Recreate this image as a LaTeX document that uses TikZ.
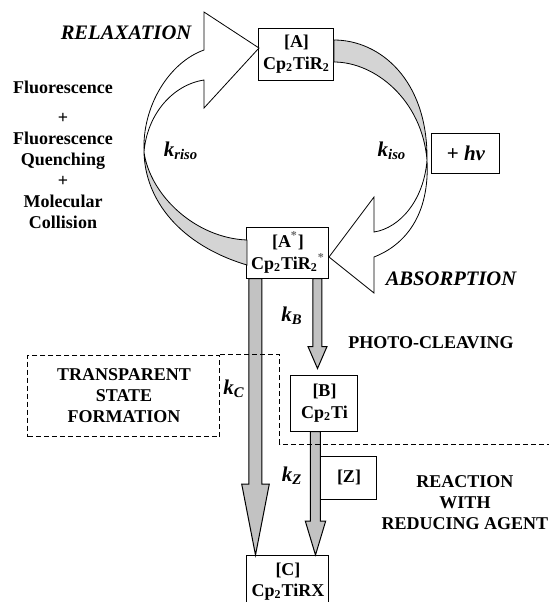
\documentclass[tikz,border=0pt]{standalone}
\usepackage{fontspec}
\setmainfont{Liberation Serif}
\usetikzlibrary{positioning}

% straight block arrow: #1 start, #2 tip, #3 half shaft, #4 half head, #5 head length
\newcommand{\blockarrow}[5]{%
  \filldraw[shaft] ([xshift=-#3]#1) -- ([xshift=-#3,yshift=#5]#2) -- ([xshift=-#4,yshift=#5]#2) -- (#2)
    -- ([xshift=#4,yshift=#5]#2) -- ([xshift=#3,yshift=#5]#2) -- ([xshift=#3]#1) -- cycle;}

\begin{document}
\begin{tikzpicture}[x=0.5pt,y=-0.5pt,
        species/.style = {draw, line width=0.5pt, align=center, inner sep=0pt, font=\bfseries\fontsize{9}{11}\selectfont},
        note/.style = {align=center, font=\bfseries\fontsize{9}{10.5}\selectfont},
        slanted/.style = {font=\bfseries\itshape\fontsize{10.3}{12}\selectfont},
        rate/.style = {font=\bfseries\itshape\fontsize{10.5}{12}\selectfont},
        backface/.style = {draw, line width=0.4pt, fill=black!17},
        frontface/.style = {draw, line width=0.4pt, fill=white},
        shaft/.style = {draw, line width=0.5pt, fill=black!24},
        dashline/.style = {line width=0.5pt, dash pattern=on 2.5pt off 1.5pt},]
    \useasboundingbox (0,0) rectangle (549,602);

    \node[species, minimum width=37.5pt, minimum height=26pt] (A) at (296.5,54) {[A]\\Cp\textsubscript{2}TiR\textsubscript{2}};
    \node[species, minimum width=41pt, minimum height=25.5pt] (Astar) at (288,252.5) {[A\textsuperscript{\color{black!60}*}]\\Cp\textsubscript{2}TiR\textsubscript{2}\textsuperscript{\color{black!60}*}};
    \node[species, minimum width=33.5pt, minimum height=28pt] (B) at (324.5,403) {[B]\\Cp\textsubscript{2}Ti};
    \node[species, anchor=north, minimum width=41pt, inner ysep=4pt, font=\bfseries\fontsize{9}{10.5}\selectfont] (C) at (288,555) {[C]\\Cp\textsubscript{2}TiRX\\~};
    \node[species, minimum width=34pt, minimum height=20pt, font=\bfseries\fontsize{10.5}{12}\selectfont] (hv) at (466,153) {+ \textit{hν}};
    \node[species, minimum width=28pt, minimum height=21.5pt] (Z) at (349,477.5) {[Z]};
    \node[note, draw, dashline, minimum width=96pt, minimum height=40.75pt] (transp) at (124,395.75) {TRANSPARENT\\STATE\\FORMATION};

    \node[slanted] (relax) at (126,33) {RELAXATION};
    \node[slanted] (absorb) at (451,279) {ABSORPTION};
    \node[note] (decay) at (63,155) {Fluorescence\\[4.5pt]+\\Fluorescence\\Quenching\\+\\Molecular\\Collision};
    \node[note] (photo) at (431,343) {PHOTO-CLEAVING};
    \node[note] (reaction) at (465,503) {REACTION\\WITH\\REDUCING AGENT};

    \node[rate] (kriso) at (181,151) {k\textsubscript{riso}};
    \node[rate] (kiso) at (392,151) {k\textsubscript{iso}};
    \node[rate] (kB) at (292,316) {k\textsubscript{B}};
    \node[rate] (kC) at (234,389) {k\textsubscript{C}};
    \node[rate] (kZ) at (292,476) {k\textsubscript{Z}};

    % ribbon loop
    \filldraw[backface] (334,40) .. controls (380,40) and (428,80) .. (427,160)
        .. controls (422,100) and (375,62) .. (334,62) -- cycle;
    \filldraw[frontface] (427,160) .. controls (430,215) and (405,245) .. (374,257)
        -- (374,293) -- (329,257) -- (374,197) -- (374,232)
        .. controls (400,228) and (424,200) .. (427,160) -- cycle;
    \filldraw[backface] (144,152) .. controls (145,200) and (180,245) .. (247,265)
        -- (247,240) .. controls (195,238) and (150,195) .. (144,152) -- cycle;
    \filldraw[frontface] (144,152) .. controls (142,105) and (170,62) .. (204,50)
        -- (204,12) -- (259,48) -- (204,108) -- (204,80)
        .. controls (172,85) and (147,115) .. (144,152) -- cycle;

    % straight steps
    \coordinate (kCfrom) at ([xshift=-16.25pt]Astar.south);
    \coordinate (kCto) at ([xshift=-16.25pt]C.north);
    \coordinate (kBfrom) at ([xshift=14.75pt]Astar.south);
    \coordinate (kBto) at ([xshift=-3.5pt,yshift=3pt]B.north);
    \coordinate (kZfrom) at ([xshift=-4.5pt]B.south);
    \coordinate (kZto) at ([xshift=13.75pt]C.north);
    \blockarrow{kCfrom}{kCto}{3.25pt}{6.9pt}{35.5pt}
    \blockarrow{kBfrom}{kBto}{2.25pt}{4.75pt}{11pt}
    \blockarrow{kZfrom}{kZto}{2.5pt}{5.1pt}{17pt}

    \coordinate (dashend) at (549,444);
    \draw[dashline] (transp.north east) -| (280,444) -- (dashend);
\end{tikzpicture}
\end{document}
